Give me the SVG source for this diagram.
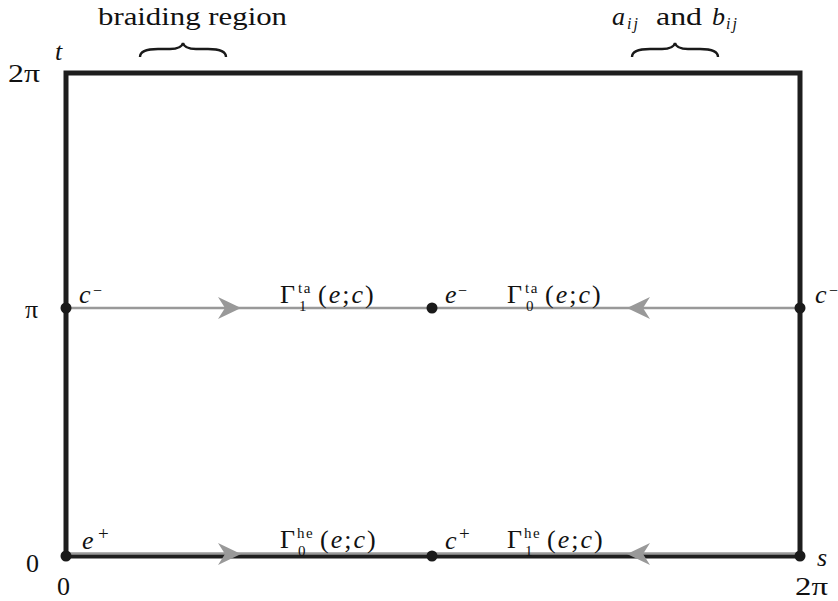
<svg xmlns="http://www.w3.org/2000/svg" width="838" height="601" viewBox="0 0 838 601">
<style>
text{font-family:'Liberation Serif','Times New Roman',serif;font-size:26px;fill:#111}
.i{font-style:italic}
.s{font-size:16px}
.ss{font-size:15px;letter-spacing:1.5px}
.p{letter-spacing:2px}
.frame{fill:none;stroke:#1e1e1e;stroke-width:5;stroke-linejoin:miter;stroke-linecap:square}
.g{stroke:#999;stroke-width:2.5;fill:none}
.ah{fill:#999}
.dot{fill:#1a1a1a}
.brace{fill:none;stroke:#1a1a1a;stroke-width:2.4}
</style>
<rect width="838" height="601" fill="#fff"/>
<g id="frame">
<path class="frame" d="M66,556 L66,73 L800,73 L800,556 Z"/>
</g>
<g id="connectors">
<line class="g" x1="66" y1="308" x2="800" y2="308"/>
<polygon class="ah" points="241,308 218,297 225,308 218,319"/>
<polygon class="ah" points="627,308 650,297 643,308 650,319"/>
<line class="g" x1="66" y1="553.5" x2="800" y2="553.5"/>
<polygon class="ah" points="241,554 218,543 225,554 218,565"/>
<polygon class="ah" points="627,554 650,543 643,554 650,565"/>
</g>
<g id="axes">
<text class="i" x="55" y="60">t</text>
<text x="8" y="82" textLength="32" lengthAdjust="spacingAndGlyphs">2π</text>
<text x="25" y="318">π</text>
<text x="26" y="572">0</text>
<text x="57" y="595">0</text>
<text x="795" y="595" textLength="33" lengthAdjust="spacingAndGlyphs">2π</text>
<text class="i" x="817" y="566">s</text>
</g>
<g id="braiding-region">
<path class="brace" d="M140,57 C140,51 147,49 158,49 L170,49 C178,49 182,47 183,43 C184,47 188,49 196,49 L208,49 C219,49 226,51 226,57"/>
<text x="98" y="25" textLength="189" lengthAdjust="spacingAndGlyphs">braiding region</text>
</g>
<g id="aij-bij">
<path class="brace" d="M632,57 C632,51 639,49 650,49 L662,49 C670,49 674,47 675,43 C676,47 680,49 688,49 L700,49 C711,49 718,51 718,57"/>
<text class="i" x="612" y="25">a<tspan class="s" x="627" y="29" letter-spacing="2">ij</tspan></text>
<text x="656" y="25" textLength="46" lengthAdjust="spacingAndGlyphs">and</text>
<text class="i" x="712" y="25">b<tspan class="s" x="726" y="29" letter-spacing="2">ij</tspan></text>
</g>
<g id="node-c-minus-left">
<circle class="dot" cx="66" cy="308" r="5.5"/>
<text class="i" x="79" y="303">c<tspan class="s" x="93" y="296" font-style="normal">−</tspan></text>
</g>
<g id="node-e-minus">
<circle class="dot" cx="432" cy="308" r="5.5"/>
<text class="i" x="445" y="303">e<tspan class="s" x="458" y="296" font-style="normal">−</tspan></text>
</g>
<g id="node-c-minus-right">
<circle class="dot" cx="800" cy="308" r="5.5"/>
<text class="i" x="815" y="303">c<tspan class="s" x="829" y="296" font-style="normal">−</tspan></text>
</g>
<g id="node-e-plus">
<circle class="dot" cx="66" cy="556" r="5.5"/>
<text class="i" x="82" y="549">e<tspan x="98" y="540" font-size="19" font-style="normal">+</tspan></text>
</g>
<g id="node-c-plus">
<circle class="dot" cx="432" cy="556" r="5.5"/>
<text class="i" x="445" y="549">c<tspan x="459" y="540" font-size="19" font-style="normal">+</tspan></text>
</g>
<g id="node-s">
<circle class="dot" cx="800" cy="556" r="5.5"/>
</g>
<g id="label-gamma1-ta">
<text x="280" y="303">Γ<tspan class="ss" x="298" y="293">ta</tspan><tspan class="ss" x="299" y="311">1</tspan><tspan class="p" x="318" y="303">(<tspan class="i">e</tspan>;<tspan class="i">c</tspan>)</tspan></text>
</g>
<g id="label-gamma0-ta">
<text x="507" y="303">Γ<tspan class="ss" x="525" y="293">ta</tspan><tspan class="ss" x="526" y="311">0</tspan><tspan class="p" x="545" y="303">(<tspan class="i">e</tspan>;<tspan class="i">c</tspan>)</tspan></text>
</g>
<g id="label-gamma0-he">
<text x="280" y="548">Γ<tspan class="ss" x="297" y="538">he</tspan><tspan class="ss" x="298" y="556">0</tspan><tspan class="p" x="320" y="548">(<tspan class="i">e</tspan>;<tspan class="i">c</tspan>)</tspan></text>
</g>
<g id="label-gamma1-he">
<text x="507" y="548">Γ<tspan class="ss" x="524" y="538">he</tspan><tspan class="ss" x="525" y="556">1</tspan><tspan class="p" x="547" y="548">(<tspan class="i">e</tspan>;<tspan class="i">c</tspan>)</tspan></text>
</g>
</svg>
